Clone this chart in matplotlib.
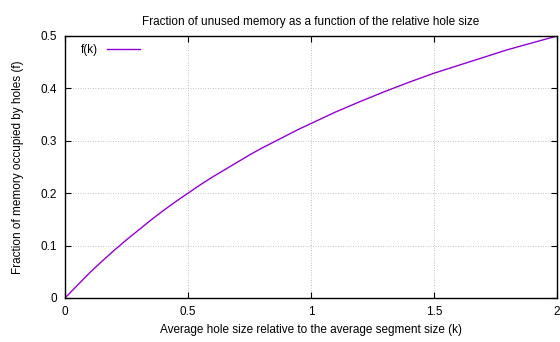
import matplotlib
matplotlib.use("Agg")
import matplotlib.pyplot as plt

# values
k = [0.0, 0.05, 0.1, 0.15, 0.2, 0.25, 0.3, 0.35, 0.4, 0.45, 0.5,
     0.55, 0.6, 0.65, 0.7, 0.75, 0.8, 0.85, 0.9, 0.95, 1.0,
     1.1, 1.2, 1.3, 1.4, 1.5, 1.6, 1.7, 1.8, 1.9, 2.0]
f = [0.0, 0.024, 0.048, 0.070, 0.091, 0.111, 0.130, 0.149, 0.167, 0.184, 0.200,
     0.216, 0.231, 0.245, 0.259, 0.273, 0.286, 0.298, 0.310, 0.322, 0.333,
     0.355, 0.375, 0.394, 0.412, 0.429, 0.444, 0.459, 0.474, 0.487, 0.500]

xticks = [0, 0.5, 1, 1.5, 2]
xlabels = ["0", "0.5", "1", "1.5", "2"]
yticks = [0, 0.1, 0.2, 0.3, 0.4, 0.5]
ylabels = ["0", "0.1", "0.2", "0.3", "0.4", "0.5"]

plt.rcParams["font.family"] = ["Liberation Sans", "DejaVu Sans"]
plt.rcParams["font.size"] = 8.5

fig = plt.figure(figsize=(5.6, 3.42), dpi=100)
ax = fig.add_axes([65 / 560, 1 - 298 / 342, (557 - 65) / 560, (298 - 36) / 342])

ax.plot(k, f, color="#9400d3", lw=1, label="f(k)")

ax.set_xlim(0, 2)
ax.set_ylim(0, 0.5)
ax.set_xticks(xticks, xlabels)
ax.set_yticks(yticks, ylabels)
ax.tick_params(direction="in", top=True, right=True, length=4, width=0.8, pad=6)
ax.grid(True, color="#b0b0b0", ls=(0, (1, 2)), lw=0.6)
for s in ax.spines.values():
    s.set_linewidth(1.0)

ax.set_title("Fraction of unused memory as a function of the relative hole size", fontsize=8.5, pad=8)
ax.set_xlabel("Average hole size relative to the average segment size (k)")
ax.set_ylabel("Fraction of memory occupied by holes (f)")
ax.yaxis.set_label_coords(-0.083, 0.5)

ax.legend(loc="upper left", frameon=False, markerfirst=False, handlelength=2.8,
          borderaxespad=0.3, bbox_to_anchor=(0.015, 1.0))

plt.savefig("out.png", dpi=100)
